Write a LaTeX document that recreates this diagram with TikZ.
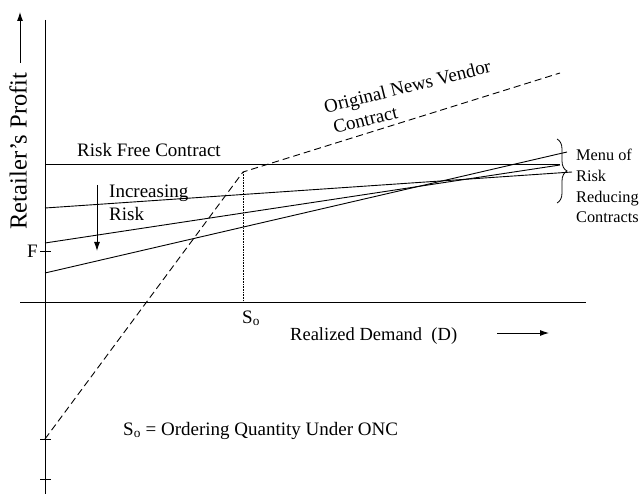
\documentclass[tikz,border=0pt]{standalone}
\usepackage{fontspec}
\setmainfont{Liberation Serif}
\usetikzlibrary{arrows.meta,decorations.pathreplacing}

\begin{document}
\begin{tikzpicture}[x=1pt,y=-1pt,
  axisline/.style={line width=0.9pt},
  contract/.style={line width=0.9pt},
  onc/.style={line width=0.9pt, dash pattern=on 7pt off 4pt},
  lbl/.style={inner sep=0pt, font=\fontsize{19}{23}\selectfont},
  menulbl/.style={inner sep=0pt, font=\fontsize{16.3}{20.7}\selectfont, align=left},
  arr/.style={line width=0.9pt, -{Latex[length=9pt,width=6pt]}}]
\useasboundingbox (0,0) rectangle (642,494);

% axes
\coordinate (ytop) at (45,20);
\coordinate (ybot) at (45,494);
\coordinate (xleft) at (20,302);
\coordinate (xright) at (586,302);
\draw[axisline] (ytop) -- (ybot);
\draw[axisline] (xleft) -- (xright);
\foreach \y in {251,439,479}
  \draw[axisline] (40,\y) -- (51,\y);

% axis labels
\node[inner sep=0pt, font=\fontsize{24.5}{28}\selectfont, rotate=90] (ylab) at (18,151) {Retailer's Profit};
\coordinate (ytail) at (20,63);
\coordinate (ytip) at (20,12);
\draw[arr] (ytail) -- (ytip);
\node[lbl, font=\fontsize{18.5}{23}\selectfont, anchor=base west] (xlab) at (290,340) {Realized Demand\ \ (D)};
\coordinate (xtail) at (497,333);
\coordinate (xtip) at (549,333);
\draw[arr] (xtail) -- (xtip);
\node[lbl, anchor=east] (flab) at (38,251) {F};

% original news vendor contract
\coordinate (onc0) at (45,439);
\coordinate (kink) at (243,172);
\coordinate (onc1) at (560,73);
\draw[onc] (onc0) -- (kink) -- (onc1);
\coordinate (sofoot) at (243,302);
\draw[line width=0.6pt, densely dotted] (kink) -- (sofoot);
\node[lbl, anchor=base west] (solab) at (242,323) {S\textsubscript{o}};
\node[lbl, font=\fontsize{19}{22}\selectfont, rotate=14, align=left] (onclab) at (410,97)
  {Original News Vendor\\\hspace{4pt}Contract};

% risk free and risk reducing contracts
\coordinate (rf0) at (45,164);
\coordinate (rf1) at (560,164);
\draw[contract] (rf0) -- (rf1);
\node[lbl, anchor=base west] (rflab) at (77,157) {Risk Free Contract};
\coordinate (ra0) at (45,208);
\coordinate (ra1) at (572,172);
\coordinate (rb0) at (45,243);
\coordinate (rb1) at (560,165);
\coordinate (rc0) at (45,273);
\coordinate (rc1) at (567,152);
\draw[contract] (ra0) -- (ra1);
\draw[contract] (rb0) -- (rb1);
\draw[contract] (rc0) -- (rc1);

% increasing risk
\node[lbl, anchor=west, align=left] (risklab) at (109,203) {Increasing\\Risk};
\coordinate (rtop) at (97,185);
\coordinate (rbot) at (97,251);
\draw[arr] (rtop) -- (rbot);

% menu brace
\coordinate (btop) at (557,139);
\coordinate (bbot) at (557,203);
\draw[line width=0.8pt, decorate, decoration={brace, amplitude=10pt}] (btop) -- (bbot);
\node[menulbl, anchor=west] (menulab) at (576,186) {Menu of\\Risk\\Reducing\\Contracts};

\node[lbl, anchor=base west] (notelab) at (123,435) {S\textsubscript{o} = Ordering Quantity Under ONC};
\end{tikzpicture}
\end{document}
